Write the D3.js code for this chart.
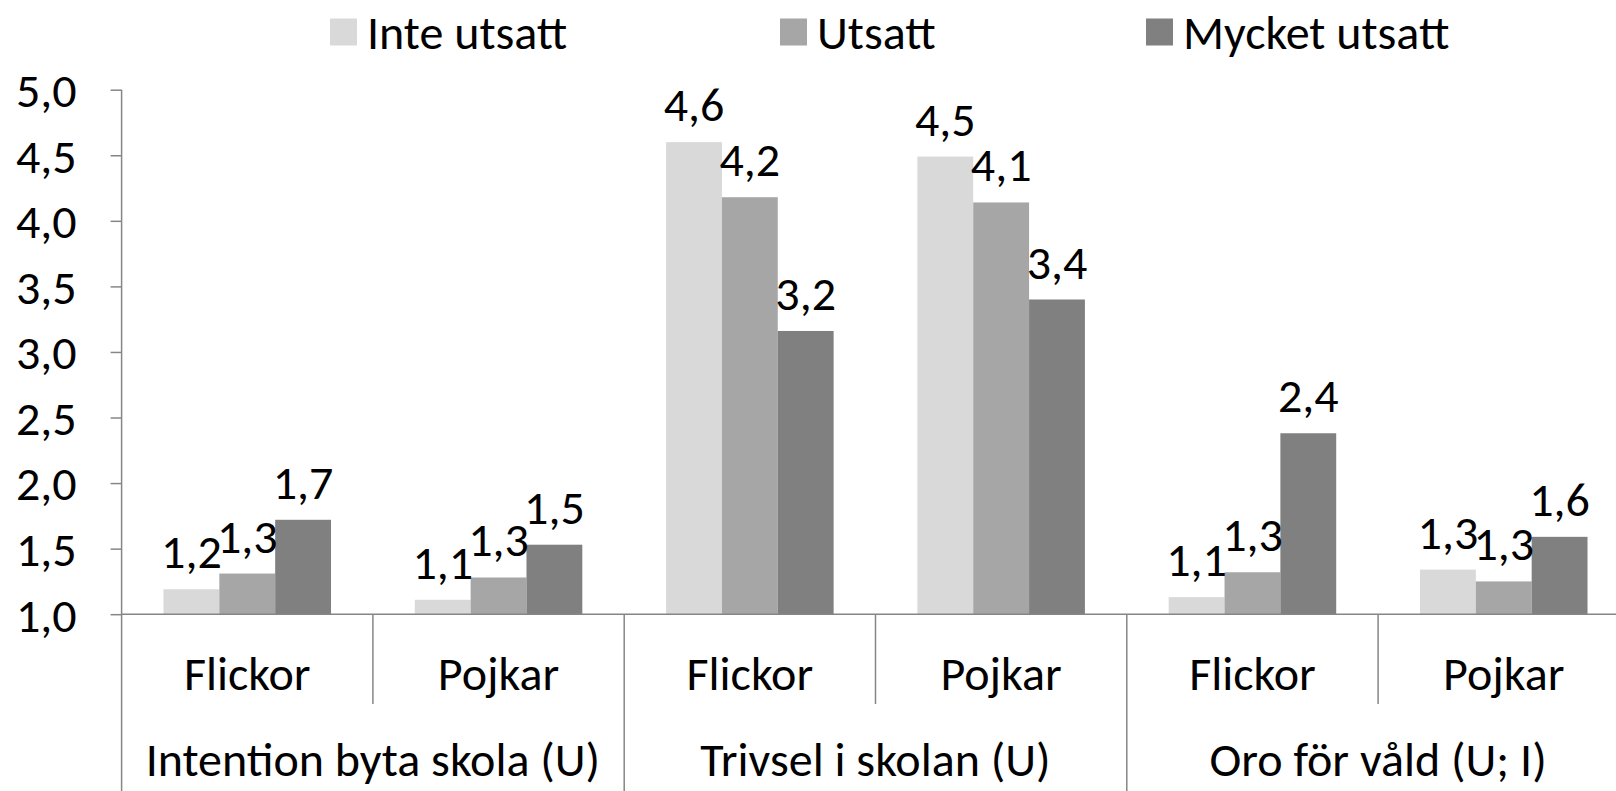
<!DOCTYPE html>
<html>
<head>
<meta charset="utf-8">
<script src="https://cdn.jsdelivr.net/npm/d3@7"></script>
<style>
  body { margin: 0; background: #fff; }
  svg { display: block; }
  text { font-family: Carlito, Calibri, Lato, sans-serif; fill: #000; }
</style>
</head>
<body>
<svg id="chart" width="1616" height="791"></svg>
<script>
// data
const groups = ["Intention byta skola (U)", "Trivsel i skolan (U)", "Oro för våld (U; I)"];
const subgroups = ["Flickor", "Pojkar"];
const seriesNames = ["Inte utsatt", "Utsatt", "Mycket utsatt"];
const seriesColors = ["#d9d9d9", "#a6a6a6", "#808080"];
// one row per category (group x subgroup), in order
const inteUtsatt   = [1.19, 1.11, 4.60, 4.49, 1.13, 1.34];
const utsatt       = [1.31, 1.28, 4.18, 4.14, 1.32, 1.25];
const mycketUtsatt = [1.72, 1.53, 3.16, 3.40, 2.38, 1.59];
const yTicks = [1.0, 1.5, 2.0, 2.5, 3.0, 3.5, 4.0, 4.5, 5.0];

const series = [inteUtsatt, utsatt, mycketUtsatt];
const categories = [];
groups.forEach((g, gi) => subgroups.forEach((s, si) => categories.push({ id: gi + "-" + si, group: g, sub: s })));

const svg = d3.select("#chart");
const fs = 48;
const axisColor = "#868686";
const comma = v => d3.format(".1f")(v).replace(".", ",");

// layout
const left = 121.6, right = 1629.4;
const y = d3.scaleLinear().domain([1, 5]).range([614.2, 89.7]);
const x0 = d3.scaleBand().domain(categories.map(c => c.id)).range([left, right]).padding(0);
const x1 = d3.scaleBand().domain(seriesNames).range([0, x0.bandwidth()]).paddingInner(0).paddingOuter(0.75);

// y axis
const yAxis = d3.axisLeft(y).tickValues(yTicks).tickFormat(comma).tickSize(11).tickPadding(34);
const gy = svg.append("g").attr("transform", `translate(${left},0)`).call(yAxis);
gy.select(".domain").remove();
gy.selectAll(".tick line").attr("stroke", axisColor).attr("stroke-width", 1.5);
gy.selectAll(".tick text").attr("font-size", fs).attr("font-family", null).attr("dy", "0.35em");

// bars
const cat = svg.append("g").selectAll("g").data(categories).join("g")
  .attr("transform", d => `translate(${x0(d.id)},0)`);

cat.selectAll("rect")
  .data((d, i) => seriesNames.map((s, k) => ({ s, k, v: series[k][i] })))
  .join("rect")
  .attr("x", d => x1(d.s))
  .attr("y", d => y(d.v))
  .attr("width", x1.bandwidth())
  .attr("height", d => y(1) - y(d.v))
  .attr("fill", d => seriesColors[d.k]);

cat.selectAll("text.val")
  .data((d, i) => seriesNames.map((s, k) => ({ s, k, v: series[k][i] })))
  .join("text")
  .attr("class", "val")
  .attr("x", d => x1(d.s) + x1.bandwidth() / 2)
  .attr("y", d => y(d.v) - 21)
  .attr("text-anchor", "middle")
  .attr("font-size", fs)
  .text(d => comma(d.v));

// axis lines
const axes = svg.append("g").attr("stroke", axisColor).attr("stroke-width", 1.5);
axes.append("line").attr("x1", left).attr("x2", 1616).attr("y1", y(1)).attr("y2", y(1));
axes.append("line").attr("x1", left).attr("x2", left).attr("y1", y(5)).attr("y2", 791);
categories.forEach((c, i) => {
  if (i === 0) return;
  const xb = x0(c.id);
  axes.append("line").attr("x1", xb).attr("x2", xb).attr("y1", y(1))
    .attr("y2", c.sub === subgroups[0] ? 791 : 704);
});

// category labels
svg.append("g").selectAll("text").data(categories).join("text")
  .attr("x", d => x0(d.id) + x0.bandwidth() / 2)
  .attr("y", 690)
  .attr("text-anchor", "middle")
  .attr("font-size", fs)
  .text(d => d.sub);

svg.append("g").selectAll("text").data(groups).join("text")
  .attr("x", (g, gi) => x0(gi + "-0") + x0.bandwidth())
  .attr("y", 776)
  .attr("text-anchor", "middle")
  .attr("font-size", fs)
  .text(g => g);

// legend
const legendX = [330, 780, 1146];
const lg = svg.append("g").selectAll("g").data(seriesNames).join("g")
  .attr("transform", (d, i) => `translate(${legendX[i]},32)`);
lg.append("rect").attr("x", 0).attr("y", -13.5).attr("width", 27).attr("height", 27)
  .attr("fill", (d, i) => seriesColors[i]);
lg.append("text").attr("x", 37).attr("dy", "0.35em").attr("font-size", fs).text(d => d);
</script>
</body>
</html>
